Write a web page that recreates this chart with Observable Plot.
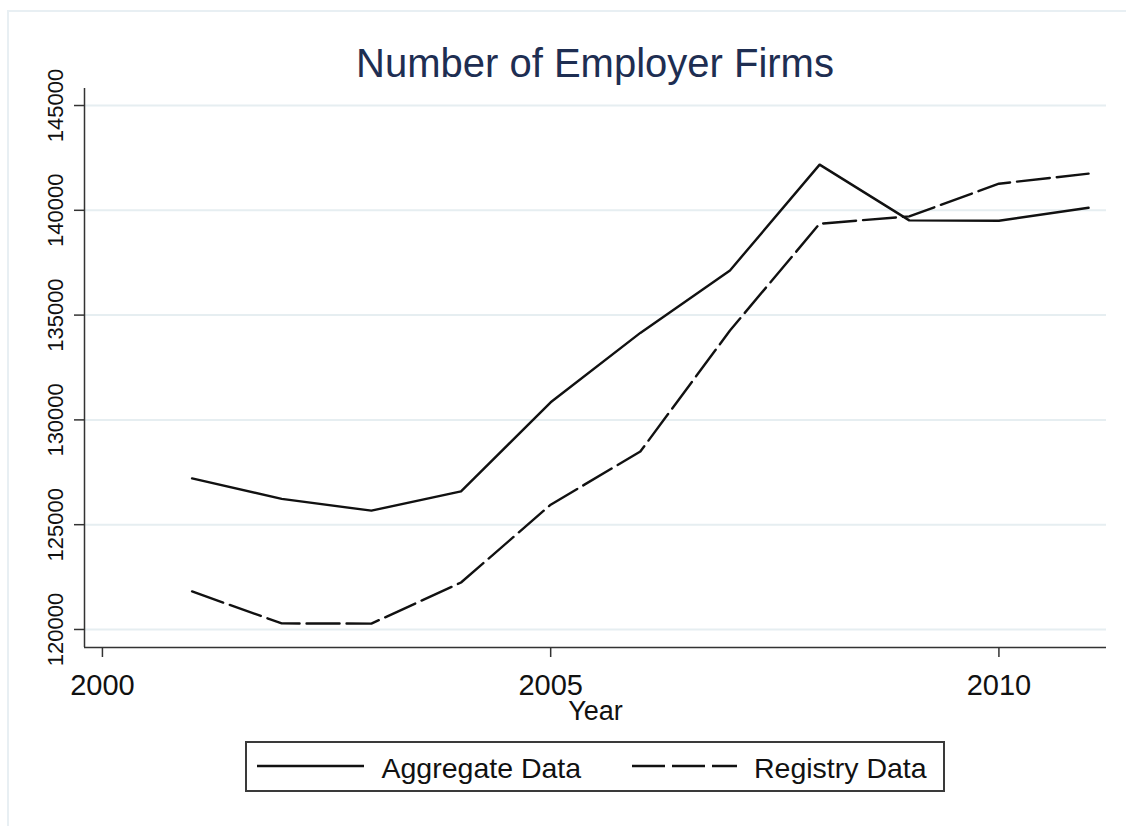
<!DOCTYPE html>
<html>
<head>
<meta charset="utf-8">
<script src="https://cdn.jsdelivr.net/npm/d3@7"></script>
<script src="https://cdn.jsdelivr.net/npm/@observablehq/plot@0.6"></script>
<style>
  html, body { margin: 0; padding: 0; background: #fff; }
  #page { position: relative; width: 1126px; height: 826px; overflow: hidden; font-family: "Liberation Sans", Arial, sans-serif; }
  #frame { position: absolute; left: 7px; top: 10px; width: 1200px; height: 900px; border-left: 2px solid #e8eff3; border-top: 2px solid #e8eff3; }
  #title { position: absolute; left: 0; width: 1190px; top: 43px; text-align: center; font-size: 40px; line-height: 40px; color: #1e2e52; white-space: nowrap; }
  #chart { position: absolute; left: 0; top: 0; }
  #legend { position: absolute; left: 245px; top: 741px; width: 700px; height: 51px; box-sizing: border-box; border: 2px solid #3a3a3a; }
  #legend .lab { position: absolute; top: 10.5px; font-size: 28.5px; line-height: 28px; color: #111; white-space: nowrap; }
  #legend svg { position: absolute; top: 0; }
</style>
</head>
<body>
<div id="page">
  <div id="frame"></div>
  <div id="chart"></div>
  <div id="title">Number of Employer Firms</div>
  <div id="legend"></div>
</div>
<script>
// ---- data ----
const years = [2001, 2002, 2003, 2004, 2005, 2006, 2007, 2008, 2009, 2010, 2011];
const aggregateData = [127210, 126230, 125670, 126590, 130840, 134150, 137130, 142180, 139520, 139500, 140120];
const registryData  = [121815, 120290, 120280, 122240, 125955, 128490, 134265, 139360, 139710, 141270, 141750];
const seriesNames = ["Aggregate Data", "Registry Data"];
const xTicks = [2000, 2005, 2010];
const yTicks = [120000, 125000, 130000, 135000, 140000, 145000];
const xDomain = [1999.8, 2011.2];
const yDomain = [119140, 145812];

const aggRows = years.map((year, i) => ({year, value: aggregateData[i], series: seriesNames[0]}));
const regRows = years.map((year, i) => ({year, value: registryData[i], series: seriesNames[1]}));

const axisColor = "#333";
const dash = "33,7";

const chart = Plot.plot({
  width: 1126,
  height: 740,
  marginTop: 88,
  marginLeft: 84,
  marginRight: 20,
  marginBottom: 93,
  style: { fontFamily: "'Liberation Sans', Arial, sans-serif", color: "#111", background: "transparent" },
  x: { domain: xDomain },
  y: { domain: yDomain },
  marks: [
    Plot.gridY(yTicks, { stroke: "#e6eef1", strokeOpacity: 1, strokeWidth: 2 }),
    Plot.axisY(yTicks, { tickSize: 10, tickFormat: () => "", label: null, stroke: axisColor, strokeWidth: 1.5 }),
    Plot.text(yTicks, { y: d => d, text: d => String(d), frameAnchor: "left", rotate: -90, dx: -22,
      textAnchor: "middle", lineAnchor: "bottom", fontSize: 22, fill: "#111" }),
    Plot.axisX(xTicks, { tickSize: 10, tickPadding: 17, tickFormat: d => String(d), label: null,
      fontSize: 29, stroke: axisColor, strokeWidth: 1.5 }),
    Plot.ruleX([xDomain[0]], { stroke: axisColor, strokeWidth: 1.5 }),
    Plot.ruleY([yDomain[0]], { stroke: axisColor, strokeWidth: 1.5 }),
    Plot.text(["Year"], { frameAnchor: "bottom", dy: 72, lineAnchor: "bottom", fontSize: 27, fill: "#111", text: d => d }),
    Plot.line(aggRows, { x: "year", y: "value", stroke: "#111", strokeWidth: 2.4 }),
    Plot.line(regRows, { x: "year", y: "value", stroke: "#111", strokeWidth: 2.4, strokeDasharray: dash })
  ]
});
document.getElementById("chart").appendChild(chart);

// ---- legend ----
const legend = document.getElementById("legend");
const items = [
  { name: seriesNames[0], dash: null, x0: 10, x1: 117, tx: 134.5 },
  { name: seriesNames[1], dash: dash, x0: 385, x1: 490, tx: 507 }
];
for (const it of items) {
  const s = d3.create("svg").attr("width", 700).attr("height", 47).style("left", "0px");
  s.append("line").attr("x1", it.x0).attr("x2", it.x1).attr("y1", 23).attr("y2", 23)
    .attr("stroke", "#111").attr("stroke-width", 2.4).attr("stroke-dasharray", it.dash);
  legend.appendChild(s.node());
  const t = document.createElement("div");
  t.className = "lab";
  t.style.left = it.tx + "px";
  t.textContent = it.name;
  legend.appendChild(t);
}
</script>
</body>
</html>
